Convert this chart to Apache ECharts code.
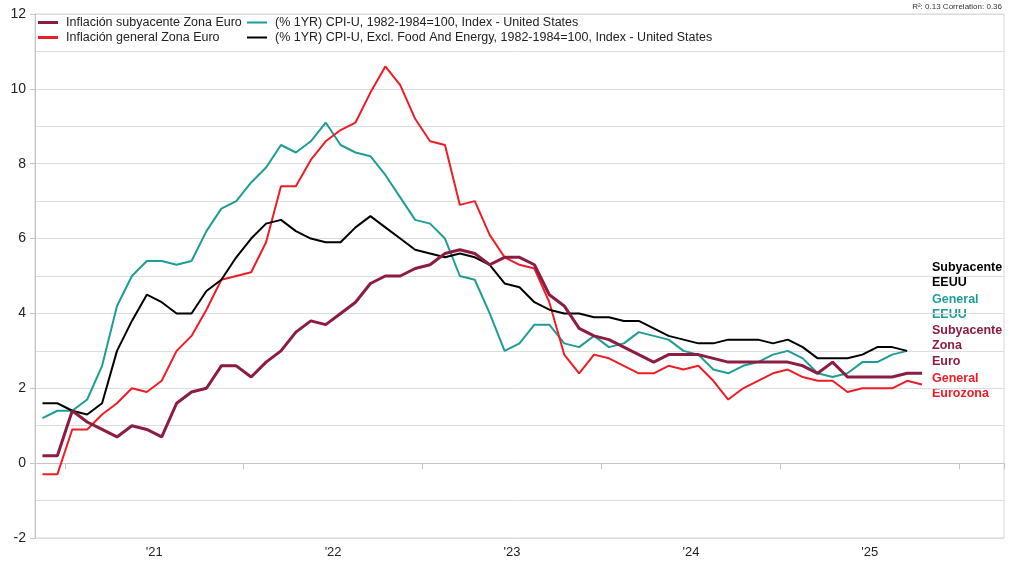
<!DOCTYPE html>
<html>
<head>
<meta charset="utf-8">
<script src="https://cdn.jsdelivr.net/npm/echarts@6/dist/echarts.min.js"></script>
<style>html,body{margin:0;padding:0;background:#fff}#c{width:1034px;height:588px}</style>
</head>
<body>
<div id="c"></div>
<script>
// Monthly categories, Nov 2020 .. Mar 2026 (axis extends past the last data point)
const months = [
  '2020-11','2020-12',
  '2021-01','2021-02','2021-03','2021-04','2021-05','2021-06','2021-07','2021-08','2021-09','2021-10','2021-11','2021-12',
  '2022-01','2022-02','2022-03','2022-04','2022-05','2022-06','2022-07','2022-08','2022-09','2022-10','2022-11','2022-12',
  '2023-01','2023-02','2023-03','2023-04','2023-05','2023-06','2023-07','2023-08','2023-09','2023-10','2023-11','2023-12',
  '2024-01','2024-02','2024-03','2024-04','2024-05','2024-06','2024-07','2024-08','2024-09','2024-10','2024-11','2024-12',
  '2025-01','2025-02','2025-03','2025-04','2025-05','2025-06','2025-07','2025-08','2025-09','2025-10','2025-11','2025-12',
  '2026-01','2026-02','2026-03'
];

const euroCore = [
  0.2, 0.2,
  1.4, 1.1, 0.9, 0.7, 1.0, 0.9, 0.7, 1.6, 1.9, 2.0, 2.6, 2.6,
  2.3, 2.7, 3.0, 3.5, 3.8, 3.7, 4.0, 4.3, 4.8, 5.0, 5.0, 5.2,
  5.3, 5.6, 5.7, 5.6, 5.3, 5.5, 5.5, 5.3, 4.5, 4.2, 3.6, 3.4,
  3.3, 3.1, 2.9, 2.7, 2.9, 2.9, 2.9, 2.8, 2.7, 2.7, 2.7, 2.7,
  2.7, 2.6, 2.4, 2.7, 2.3, 2.3, 2.3, 2.3, 2.4, 2.4
];

const euroHeadline = [
  -0.3, -0.3,
  0.9, 0.9, 1.3, 1.6, 2.0, 1.9, 2.2, 3.0, 3.4, 4.1, 4.9, 5.0,
  5.1, 5.9, 7.4, 7.4, 8.1, 8.6, 8.9, 9.1, 9.9, 10.6, 10.1, 9.2,
  8.6, 8.5, 6.9, 7.0, 6.1, 5.5, 5.3, 5.2, 4.3, 2.9, 2.4, 2.9,
  2.8, 2.6, 2.4, 2.4, 2.6, 2.5, 2.6, 2.2, 1.7, 2.0, 2.2, 2.4,
  2.5, 2.3, 2.2, 2.2, 1.9, 2.0, 2.0, 2.0, 2.2, 2.1
];

const usCPI = [
  1.2, 1.4,
  1.4, 1.7, 2.6, 4.2, 5.0, 5.4, 5.4, 5.3, 5.4, 6.2, 6.8, 7.0,
  7.5, 7.9, 8.5, 8.3, 8.6, 9.1, 8.5, 8.3, 8.2, 7.7, 7.1, 6.5,
  6.4, 6.0, 5.0, 4.9, 4.0, 3.0, 3.2, 3.7, 3.7, 3.2, 3.1, 3.4,
  3.1, 3.2, 3.5, 3.4, 3.3, 3.0, 2.9, 2.5, 2.4, 2.6, 2.7, 2.9,
  3.0, 2.8, 2.4, 2.3, 2.4, 2.7, 2.7, 2.9, 3.0
];

const usCore = [
  1.6, 1.6,
  1.4, 1.3, 1.6, 3.0, 3.8, 4.5, 4.3, 4.0, 4.0, 4.6, 4.9, 5.5,
  6.0, 6.4, 6.5, 6.2, 6.0, 5.9, 5.9, 6.3, 6.6, 6.3, 6.0, 5.7,
  5.6, 5.5, 5.6, 5.5, 5.3, 4.8, 4.7, 4.3, 4.1, 4.0, 4.0, 3.9,
  3.9, 3.8, 3.8, 3.6, 3.4, 3.3, 3.2, 3.2, 3.3, 3.3, 3.3, 3.2,
  3.3, 3.1, 2.8, 2.8, 2.8, 2.9, 3.1, 3.1, 3.0
];

const seriesNames = [
  'Inflación subyacente Zona Euro',
  'Inflación general Zona Euro',
  '(% 1YR) CPI-U, 1982-1984=100, Index - United States',
  '(% 1YR) CPI-U, Excl. Food And Energy, 1982-1984=100, Index - United States'
];

const statsText = 'R²: 0.13 Correlation: 0.36';

const C_DARKRED = '#8c1c40';
const C_RED = '#ee1c25';
const C_TEAL = '#1e9c96';
const C_BLACK = '#000000';
const FONT = '"Liberation Sans", Arial, sans-serif';

const chart = echarts.init(document.getElementById('c'), null, {renderer: 'canvas'});

function legendBlock(left, names, h) {
  return {
    orient: 'vertical',
    left: left,
    top: 15,
    padding: 0,
    itemWidth: 20,
    itemHeight: h,
    itemGap: 0,
    icon: 'rect',
    data: names.map(n => ({name: n, icon: 'rect'})),
    textStyle: {fontSize: 12.5, color: '#222', fontFamily: FONT, lineHeight: 15, padding: [0, 0, 0, 3]}
  };
}

const option = {
  animation: false,
  backgroundColor: '#fff',
  grid: {left: 35, right: 30, top: 14, bottom: 50, show: true, borderColor: '#d6d6d6', borderWidth: 1},
  legend: [
    legendBlock(38, [seriesNames[0], seriesNames[1]], 3),
    legendBlock(247, [seriesNames[2], seriesNames[3]], 2)
  ],
  xAxis: {
    type: 'category',
    data: months,
    boundaryGap: true,
    axisLine: {show: true, lineStyle: {color: '#c4c4c4'}},
    axisTick: {show: true, length: 6, interval: (i, v) => v.endsWith('-01'), lineStyle: {color: '#c4c4c4'}},
    axisLabel: {
      interval: (i, v) => v.endsWith('-07'),
      formatter: v => "'" + v.slice(2, 4),
      padding: [0, 15, 0, 0],
      color: '#222', fontSize: 13, fontFamily: FONT, margin: 8
    },
    splitLine: {show: false}
  },
  yAxis: {
    type: 'value',
    min: -2, max: 12, interval: 2,
    axisLine: {show: true, lineStyle: {color: '#c4c4c4'}},
    axisTick: {show: true, length: 5, lineStyle: {color: '#c4c4c4'}},
    axisLabel: {color: '#222', fontSize: 14, fontFamily: FONT, margin: 9},
    splitLine: {show: true, lineStyle: {color: '#dcdcdc'}},
    minorTick: {show: false, splitNumber: 2},
    minorSplitLine: {show: true, lineStyle: {color: '#dcdcdc'}}
  },
  series: [
    {name: seriesNames[2], type: 'line', data: usCPI, symbol: 'none', showSymbol: false,
     lineStyle: {width: 2, color: C_TEAL}, itemStyle: {color: C_TEAL}, z: 2},
    {name: seriesNames[1], type: 'line', data: euroHeadline, symbol: 'none', showSymbol: false,
     lineStyle: {width: 2, color: C_RED}, itemStyle: {color: C_RED}, z: 3},
    {name: seriesNames[3], type: 'line', data: usCore, symbol: 'none', showSymbol: false,
     lineStyle: {width: 2, color: C_BLACK}, itemStyle: {color: C_BLACK}, z: 4},
    {name: seriesNames[0], type: 'line', data: euroCore, symbol: 'none', showSymbol: false,
     lineStyle: {width: 3, color: C_DARKRED}, itemStyle: {color: C_DARKRED}, z: 5}
  ],
  graphic: [
    {type: 'text', right: 32, top: 3, style: {text: statsText, font: '8px ' + FONT, fill: '#333'}},
    {type: 'text', left: 932, top: 259.5, style: {text: 'Subyacente\nEEUU', font: 'bold 12.5px ' + FONT, fill: C_BLACK, lineHeight: 15.5}},
    {type: 'text', left: 932, top: 291.5, style: {text: 'General\nEEUU', font: 'bold 12.5px ' + FONT, fill: C_TEAL, lineHeight: 15.5}},
    {type: 'text', left: 932, top: 322.5, style: {text: 'Subyacente\nZona\nEuro', font: 'bold 12.5px ' + FONT, fill: C_DARKRED, lineHeight: 15.5}},
    {type: 'text', left: 932, top: 370.5, style: {text: 'General\nEurozona', font: 'bold 12.5px ' + FONT, fill: C_RED, lineHeight: 15.5}}
  ]
};

chart.setOption(option);
</script>
</body>
</html>
